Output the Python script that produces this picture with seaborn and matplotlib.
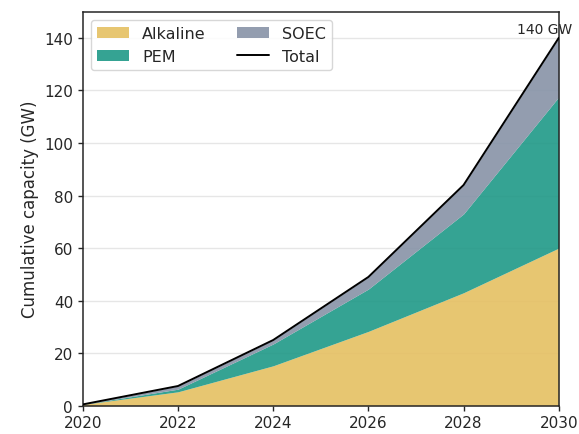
import matplotlib
matplotlib.use("Agg")
import matplotlib.pyplot as plt
import seaborn as sns
import pandas as pd

# Cumulative installed electrolyser capacity by technology (GW)
years = [2020, 2022, 2024, 2026, 2028, 2030]
alkaline = [0.5, 5.3, 15.2, 28.3, 43.0, 60.0]
pem = [0.0, 1.0, 8.3, 16.1, 30.0, 57.5]
soec = [0.0, 1.2, 1.5, 4.6, 11.0, 22.5]

technologies = ["Alkaline", "PEM", "SOEC"]
colors = ["#E5C062", "#1F9987", "#8793A7"]

df = pd.DataFrame({"year": years, "Alkaline": alkaline, "PEM": pem, "SOEC": soec})
df["Total"] = df[technologies].sum(axis=1)

sns.set_theme(style="ticks", context="notebook")
plt.rcParams["font.family"] = ["DejaVu Sans"]

fig = plt.figure(figsize=(5.79, 4.35), dpi=100)
ax = fig.add_axes([0.143, 0.065, 0.822, 0.906])

ax.grid(axis="y", color="#e6e6e6", linewidth=1.0, zorder=0)
ax.set_axisbelow(True)

ax.stackplot(df["year"], [df[t] for t in technologies], labels=technologies,
             colors=colors, alpha=0.9, linewidth=0, zorder=2)
sns.lineplot(data=df, x="year", y="Total", color="black", linewidth=1.4,
             label="Total", ax=ax, zorder=3)

total_2030 = df["Total"].iloc[-1]
ax.annotate(f"{total_2030:.0f} GW", xy=(df["year"].iloc[-1], total_2030),
            xytext=(-10.5, 1.5), textcoords="offset points", ha="center", va="bottom",
            fontsize=10, annotation_clip=False)

ax.set_xlim(2020, 2030)
ax.set_ylim(0, 150)
ax.set_xticks(years)
ax.set_yticks(range(0, 141, 20))
ax.set_xlabel("")
ax.set_ylabel("Cumulative capacity (GW)", fontsize=12)
ax.tick_params(axis="both", labelsize=11, length=3.5, width=1.0, color="#262626")
for side in ["top", "right", "left", "bottom"]:
    ax.spines[side].set_visible(True)
    ax.spines[side].set_color("#262626")
    ax.spines[side].set_linewidth(1.1)

ax.legend(loc="upper left", ncol=2, fontsize=11.5, frameon=True, fancybox=True,
          edgecolor="#d0d0d0", framealpha=0.85)

fig.savefig("out.png", dpi=100)
